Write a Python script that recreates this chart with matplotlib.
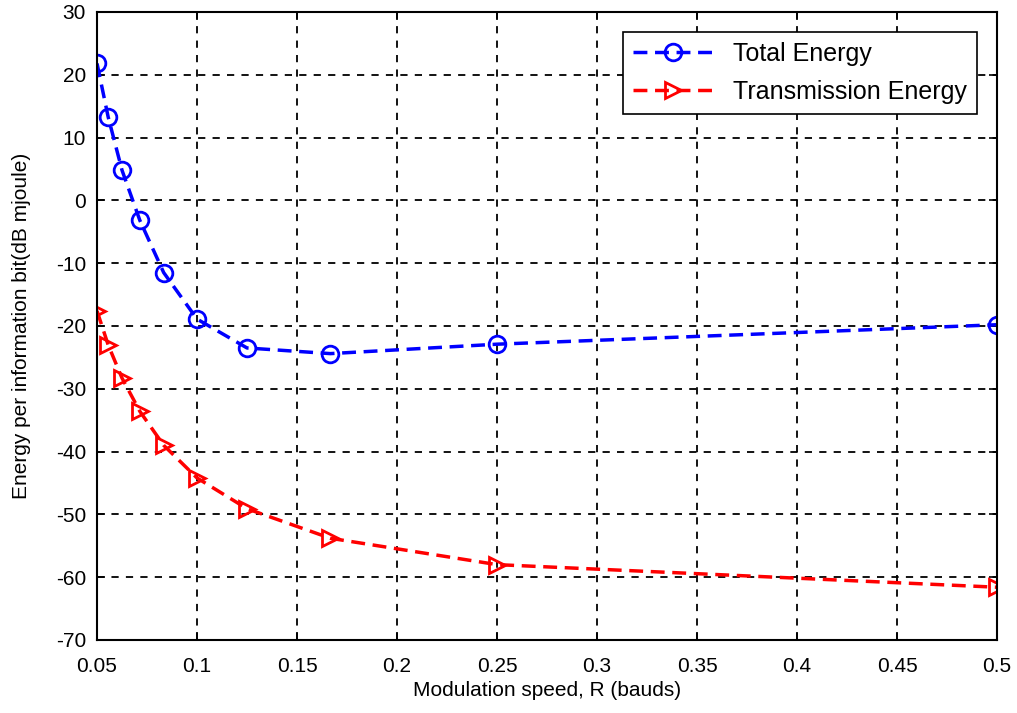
import matplotlib; matplotlib.use("Agg")
import matplotlib.pyplot as plt

# modulation speed R (bauds)
R = [1/20, 1/18, 1/16, 1/14, 1/12, 1/10, 1/8, 1/6, 1/4, 1/2]
total_energy = [21.8, 13.3, 4.8, -3.2, -11.5, -18.9, -23.5, -24.4, -22.9, -19.8]
trans_energy = [-17.6, -23.0, -28.3, -33.6, -39.0, -44.2, -49.1, -53.8, -58.0, -61.6]

xticks = [0.05, 0.1, 0.15, 0.2, 0.25, 0.3, 0.35, 0.4, 0.45, 0.5]
xticklabels = ["0.05", "0.1", "0.15", "0.2", "0.25", "0.3", "0.35", "0.4", "0.45", "0.5"]
yticks = list(range(-70, 31, 10))

plt.rcParams["font.family"] = ["Liberation Sans", "DejaVu Sans"]
plt.rcParams["axes.unicode_minus"] = False

fig = plt.figure(figsize=(10.17, 7.13), dpi=100)
ax = fig.add_axes([0.0954, 0.1024, 0.8850, 0.8808])

ax.plot(R, total_energy, "--o", color="blue", lw=2.5, ms=12, mfc="none", mew=2,
        dashes=(4, 2.2), label="Total Energy")
ax.plot(R, trans_energy, "-->", color="red", lw=2.5, ms=12, mfc="none", mew=2,
        dashes=(4, 2.2), label="Transmission Energy")

ax.set_xlim(0.05, 0.5); ax.set_ylim(-70, 30)
ax.set_xticks(xticks); ax.set_xticklabels(xticklabels)
ax.set_yticks(yticks)
ax.tick_params(direction="in", length=6, width=1.2, labelsize=15, top=True, right=True)
ax.tick_params(axis="x", pad=12)
ax.tick_params(axis="y", pad=8)
ax.grid(True, color="black", linestyle=(0, (4, 4)), lw=1.3)
for s in ax.spines.values():
    s.set_linewidth(1.5)

ax.set_xlabel("Modulation speed, R (bauds)", fontsize=15, labelpad=4)
ax.set_ylabel("Energy per information bit(dB mjoule)", fontsize=15, labelpad=18)

leg = ax.legend(loc="upper right", fontsize=18, fancybox=False, framealpha=1,
                edgecolor="black", handlelength=3.2, borderaxespad=0.8,
                borderpad=0.4, labelspacing=0.55)
leg.get_frame().set_linewidth(1.2)

fig.savefig("out.png", dpi=100)
